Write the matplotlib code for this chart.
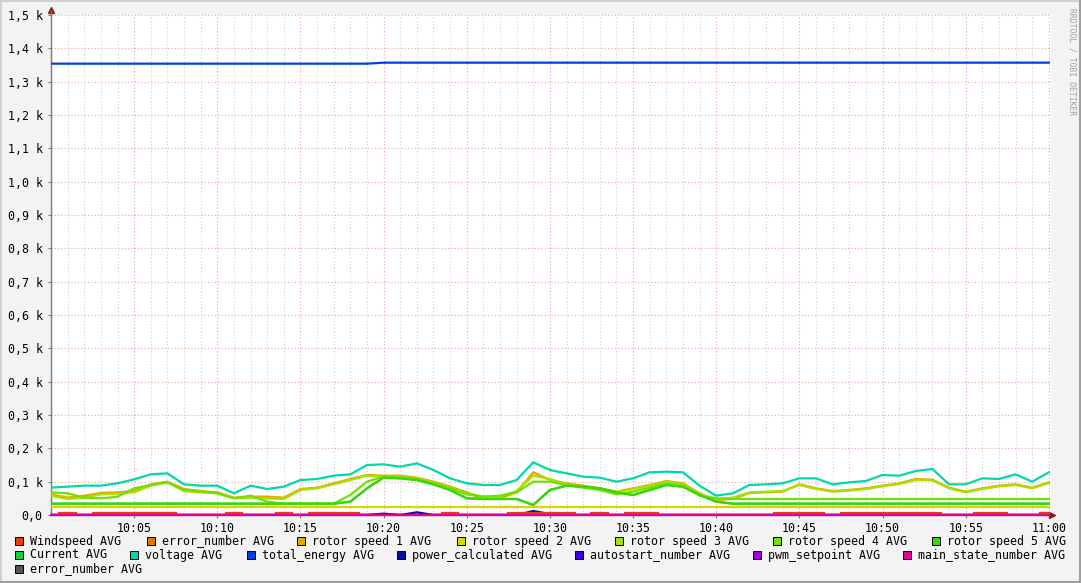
"""
RRDtool style chart: wind turbine sensor averages, 10:00 - 11:00
"""

import matplotlib
matplotlib.use('Agg')
import matplotlib.pyplot as plt
from matplotlib.ticker import MultipleLocator, FixedLocator
from matplotlib.patches import Rectangle
from matplotlib.lines import Line2D

# Data (one value per minute, 10:00 .. 11:00)
minutes = list(range(61))

windspeed = [0, 5, 0, 5, 5, 5, 5, 5, 0, 0, 0, 5, 0, 0, 5, 0, 5, 5, 5, 0,
             0, 0, 0, 0, 5, 0, 0, 0, 5, 5, 5, 5, 0, 5, 0, 5, 5, 0, 0, 0,
             0, 0, 0, 0, 5, 5, 5, 0, 5, 5, 5, 5, 5, 5, 0, 0, 5, 5, 0, 0, 5]
error_number = [0] * 61
rotor_speed_1 = [62, 52, 58, 66, 68, 72, 92, 100, 78, 72, 68, 52, 55, 55, 52, 78, 82, 95, 108, 120,
                 118, 118, 112, 100, 85, 68, 48, 50, 68, 128, 105, 95, 88, 80, 70, 80, 90, 102, 95, 65,
                 45, 48, 66, 68, 70, 92, 80, 72, 75, 80, 88, 95, 108, 106, 82, 70, 80, 88, 92, 82, 98]
rotor_speed_2 = [25] * 61
rotor_speed_3 = [58, 48, 52, 62, 64, 68, 88, 98, 72, 68, 65, 50, 52, 50, 48, 75, 80, 92, 105, 118,
                 115, 115, 110, 98, 82, 65, 55, 55, 72, 118, 108, 92, 85, 78, 68, 78, 88, 100, 92, 62,
                 48, 52, 68, 70, 72, 90, 78, 70, 73, 78, 86, 93, 105, 104, 80, 68, 78, 86, 90, 80, 96]
rotor_speed_4 = [68, 65, 52, 50, 55, 80, 90, 98, 75, 70, 65, 50, 58, 40, 34, 34, 34, 34, 60, 100,
                 115, 112, 108, 95, 80, 62, 55, 58, 68, 100, 100, 90, 82, 75, 62, 70, 82, 95, 88, 58,
                 50, 48, 48, 48, 48, 48, 48, 48, 48, 48, 48, 48, 48, 48, 48, 48, 48, 48, 48, 48, 48]
rotor_speed_5 = [34, 34, 34, 34, 34, 34, 34, 34, 34, 34, 34, 34, 34, 34, 34, 34, 34, 34, 40, 80,
                 112, 110, 105, 92, 75, 50, 48, 48, 48, 30, 75, 88, 85, 80, 68, 60, 75, 90, 85, 60,
                 40, 34, 34, 34, 34, 34, 34, 34, 34, 34, 34, 34, 34, 34, 34, 34, 34, 34, 34, 34, 34]
current = rotor_speed_5
voltage = [82, 85, 88, 88, 95, 107, 122, 125, 92, 88, 88, 65, 88, 78, 85, 105, 108, 118, 122, 150,
           152, 145, 155, 135, 110, 95, 90, 90, 105, 158, 135, 125, 115, 112, 100, 110, 128, 130, 128, 88,
           58, 65, 90, 92, 95, 110, 110, 92, 98, 102, 120, 118, 132, 138, 92, 92, 110, 108, 122, 100, 128]
total_energy = [1354] * 20 + [1357] * 41
power_calculated = [0, 0, 0, 0, 0, 0, 0, 0, 0, 0, 0, 0, 0, 0, 0, 0, 0, 0, 0, 0,
                    4, 0, 8, 0, 0, 0, 0, 0, 0, 12, 3, 0, 0, 0, 0, 0, 0, 0, 0, 0,
                    0, 0, 0, 0, 0, 0, 0, 0, 0, 0, 0, 0, 0, 0, 0, 0, 0, 0, 0, 0, 0]
autostart_number = [0] * 61
pwm_setpoint = [0] * 61
main_state_number = [1] * 61
error_number_2 = [0] * 61

x_ticks = [5, 10, 15, 20, 25, 30, 35, 40, 45, 50, 55, 60]
x_labels = ['10:05', '10:10', '10:15', '10:20', '10:25', '10:30',
            '10:35', '10:40', '10:45', '10:50', '10:55', '11:00']
y_ticks = [0, 100, 200, 300, 400, 500, 600, 700, 800, 900, 1000, 1100, 1200, 1300, 1400, 1500]
y_labels = ['0,0', '0,1 k', '0,2 k', '0,3 k', '0,4 k', '0,5 k', '0,6 k', '0,7 k',
            '0,8 k', '0,9 k', '1,0 k', '1,1 k', '1,2 k', '1,3 k', '1,4 k', '1,5 k']

# series in legend order: label, values, colour, zorder
series = [
    ('Windspeed AVG', windspeed, '#E8400C', 2.45),
    ('error_number AVG', error_number, '#E07800', 2.0),
    ('rotor speed 1 AVG', rotor_speed_1, '#E0A800', 2.1),
    ('rotor speed 2 AVG', rotor_speed_2, '#D8D800', 2.1),
    ('rotor speed 3 AVG', rotor_speed_3, '#A8E000', 2.2),
    ('rotor speed 4 AVG', rotor_speed_4, '#70E000', 2.2),
    ('rotor speed 5 AVG', rotor_speed_5, '#38D800', 2.2),
    ('Current AVG', current, '#10D040', 2.15),
    ('voltage AVG', voltage, '#00D8A8', 2.3),
    ('total_energy AVG', total_energy, '#0040E0', 2.3),
    ('power_calculated AVG', power_calculated, '#0010A0', 2.4),
    ('autostart_number AVG', autostart_number, '#4000E0', 2.0),
    ('pwm_setpoint AVG', pwm_setpoint, '#A000E0', 2.0),
    ('main_state_number AVG', main_state_number, '#E000A0', 2.5),
    ('error_number AVG', error_number_2, '#555555', 1.9),
]

# legend layout (pixel x of swatch per row)
legend_rows = [
    (541, [15, 147, 297, 457, 615, 773, 932]),
    (555, [15, 130, 247, 397, 575, 753, 903]),
    (569, [15]),
]

W, H = 1081, 583
FONT = 'DejaVu Sans Mono'
FS = 8.4

plt.rcParams['font.family'] = FONT
fig = plt.figure(figsize=(W / 100, H / 100), dpi=100, facecolor='#F3F3F3')

# plot area: x 51..1051 px, y 15..515 px
ax = fig.add_axes([51 / W, (H - 515) / H, 1000 / W, 500 / H])
ax.set_facecolor('white')
ax.set_xlim(0, 1000 / 16.63)
ax.set_ylim(0, 1500)

# grid
ax.xaxis.set_major_locator(FixedLocator(x_ticks))
ax.xaxis.set_minor_locator(MultipleLocator(1))
ax.yaxis.set_major_locator(FixedLocator(y_ticks))
ax.grid(which='minor', axis='x', color='#D0D0D0', linestyle=(0, (1, 2)), linewidth=0.8)
ax.grid(which='major', axis='both', color='#E8A8A8', linestyle=(0, (1, 2)), linewidth=0.8)
ax.set_axisbelow(True)

for label, values, color, z in series:
    ds = 'steps-mid' if label == 'Windspeed AVG' else 'default'
    ax.plot(minutes, values, color=color, linewidth=1.6, zorder=z, drawstyle=ds,
            solid_joinstyle='miter', clip_on=(values is not main_state_number))

# axes styling
for side in ('top', 'right'):
    ax.spines[side].set_visible(False)
for side in ('left', 'bottom'):
    ax.spines[side].set_color('#7A7A7A')
    ax.spines[side].set_linewidth(1.0)
    ax.spines[side].set_zorder(1.95)

ax.set_xticks(x_ticks)
ax.set_xticklabels(x_labels)
ax.set_yticks(y_ticks)
ax.set_yticklabels(y_labels)
ax.tick_params(axis='both', which='both', labelsize=FS, colors='#7A7A7A', labelcolor='black',
               length=2, width=0.8)
ax.tick_params(axis='x', which='minor', length=0)
ax.tick_params(axis='x', pad=3)
ax.tick_params(axis='y', pad=4)

# axis arrows
ax.plot([0], [1515], marker='^', color='#8B1A1A', markersize=4.5, clip_on=False)
ax.plot([60.2], [0], marker='>', color='#8B1A1A', markersize=4.5, clip_on=False)
ax.add_line(Line2D([0, 0], [1500, 1512], color='#7A7A7A', linewidth=1.0, clip_on=False))

# legend
k = 0
for y, xs in legend_rows:
    for x in xs:
        label, values, color, z = series[k]
        fig.patches.append(Rectangle((x / W, 1 - (y + 4) / H), 8 / W, 8 / H,
                                     facecolor=color, edgecolor='black', linewidth=0.7,
                                     transform=fig.transFigure))
        fig.text((x + 15) / W, 1 - y / H, label, fontsize=FS, va='center', ha='left')
        k += 1

# watermark
fig.text(1072 / W, 1 - 8 / H, 'RRDTOOL / TOBI OETIKER', rotation=270, fontsize=5.8,
         color='#A0A0A0', ha='center', va='top')

# 3D frame around the image
fig.add_artist(Line2D([0.5 / W, 0.5 / W], [0, 1], color='#D0D0D0', linewidth=1.5))
fig.add_artist(Line2D([0, 1], [1 - 0.5 / H, 1 - 0.5 / H], color='#D0D0D0', linewidth=1.5))
fig.add_artist(Line2D([1 - 1 / W, 1 - 1 / W], [0, 1], color='#9E9E9E', linewidth=1.5))
fig.add_artist(Line2D([0, 1], [1 / H, 1 / H], color='#9E9E9E', linewidth=1.5))

fig.savefig('out.png', dpi=100, facecolor=fig.get_facecolor())
